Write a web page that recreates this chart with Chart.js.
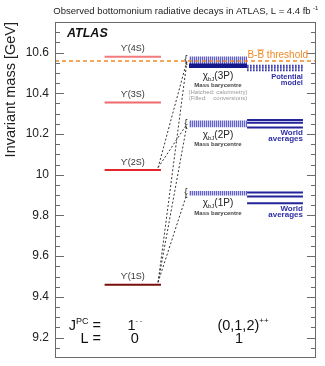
<!DOCTYPE html>
<html>
<head>
<title>Bottomonium radiative decays</title>
<script src="https://cdn.jsdelivr.net/npm/chart.js@4"></script>
<style>
  html, body { margin: 0; padding: 0; background: #fff; }
</style>
</head>
<body>
<canvas id="chart" width="325" height="366"></canvas>
<script>
// mass axis
const massMin = 9.1, massMax = 10.75, tickStep = 0.05, labelStep = 0.2;

// Upsilon(nS) states
const upsNames = ['1S', '2S', '3S', '4S'];
const upsMass = [9.460, 10.023, 10.355, 10.579];
const upsColors = ['#7a0c0c', '#e2262a', '#f06a6e', '#f27a7e'];

// chi_bJ(nP) mass barycentre, hatched band = calorimetry
const chiNames = ['1P', '2P', '3P'];
const chiLow = [9.898, 10.233, 10.543];
const chiHigh = [9.920, 10.266, 10.580];
// chi_bJ(3P) with converted photons (filled band)
const convLow = 10.524, convHigh = 10.546;

// world averages chi_b0, chi_b1, chi_b2
const world1P = [9.8594, 9.8928, 9.9122];
const world2P = [10.2325, 10.2555, 10.2687];
// potential model for chi_bJ(3P)
const model3P = [10.513, 10.525, 10.535];

const bbThreshold = 10.559;

// observed transitions: [upsilon index, chi index]
const transitions = [[0, 0], [0, 1], [0, 2], [1, 1], [1, 2]];

// horizontal columns in x-axis units (0..100 across the frame)
const colUps = [19, 40.6], colChi = [51.3, 73.6], colWorld = [73.6, 95];
const trFrom = 39.5, trTo = 50.6;

const FONT = '"Liberation Sans", Arial, Helvetica, sans-serif';

function hatch() {
  const c = document.createElement('canvas');
  c.width = 2; c.height = 2;
  const g = c.getContext('2d');
  g.fillStyle = '#cfcff4'; g.fillRect(0, 0, 2, 2);
  g.fillStyle = '#6262c6'; g.fillRect(0, 0, 1, 2);
  return g.createPattern(c, 'repeat');
}

function hline(x0, x1, yv, color, width, dash, order) {
  return {
    data: [{ x: x0, y: yv }, { x: x1, y: yv }],
    borderColor: color, borderWidth: width, borderDash: dash || [],
    fill: false, order: order || 1
  };
}

function band(x0, x1, lo, hi, bg) {
  return [
    { data: [{ x: x0, y: lo }, { x: x1, y: lo }], borderWidth: 0, borderColor: 'rgba(0,0,0,0)', fill: false, order: 3 },
    { data: [{ x: x0, y: hi }, { x: x1, y: hi }], borderWidth: 0, borderColor: 'rgba(0,0,0,0)', backgroundColor: bg, fill: '-1', order: 3 }
  ];
}

const pattern = hatch();
const datasets = [];

// B-Bbar threshold on top
datasets.push(hline(0, 100, bbThreshold, '#f08a24', 1.5, [4, 3], 0));

upsMass.forEach((m, i) => datasets.push(hline(colUps[0], colUps[1], m, upsColors[i], 2)));

chiNames.forEach((n, i) => {
  band(colChi[0], colChi[1], chiLow[i], chiHigh[i], pattern).forEach(d => datasets.push(d));
});
band(colChi[0], colChi[1], convLow, convHigh, '#17178c').forEach(d => { d.order = 2; datasets.push(d); });

world1P.forEach(m => datasets.push(hline(colWorld[0], colWorld[1], m, '#23239a', 2)));
world2P.forEach(m => datasets.push(hline(colWorld[0], colWorld[1], m, '#23239a', 2)));
model3P.forEach(m => datasets.push(hline(colWorld[0], colWorld[1], m, '#2a2aa6', 2, [1.5, 1.5])));

transitions.forEach(([u, c]) => {
  datasets.push({
    data: [{ x: trFrom, y: upsMass[u] + 0.012 }, { x: trTo, y: (chiLow[c] + chiHigh[c]) / 2 }],
    borderColor: '#333', borderWidth: 1, borderDash: [2, 2], fill: false, order: 4
  });
});

function isMajor(v) {
  const r = v / labelStep;
  return Math.abs(r - Math.round(r)) < 1e-6;
}

function txt(ctx, s, x, y, font, color, align) {
  ctx.font = font + ' ' + FONT;
  ctx.fillStyle = color;
  ctx.textAlign = align || 'center';
  ctx.textBaseline = 'middle';
  ctx.fillText(s, x, y);
}

// text runs of mixed size on one baseline (super/subscripts via dy)
function rich(ctx, parts, x, y, align, color) {
  ctx.textBaseline = 'alphabetic';
  ctx.textAlign = 'left';
  let w = 0;
  parts.forEach(p => { ctx.font = p.size + 'px ' + FONT; p.w = ctx.measureText(p.t).width; w += p.w; });
  let cx = align === 'right' ? x - w : align === 'left' ? x : x - w / 2;
  ctx.fillStyle = color;
  parts.forEach(p => {
    ctx.font = p.size + 'px ' + FONT;
    ctx.fillText(p.t, cx, y + (p.dy || 0));
    cx += p.w;
  });
}

const decor = {
  id: 'decor',
  afterDraw(chart) {
    const { ctx, chartArea: a, scales: { x, y } } = chart;
    const px = v => x.getPixelForValue(v), py = v => y.getPixelForValue(v);
    ctx.save();

    // frame and inward ticks on both sides
    ctx.strokeStyle = '#6a6a6a';
    ctx.lineWidth = 1;
    ctx.strokeRect(a.left + 0.5, a.top + 0.5, a.width - 1, a.height - 1);
    ctx.beginPath();
    y.ticks.forEach(t => {
      if (t.value <= massMin + 1e-6 || t.value >= massMax - 1e-6) return;
      const yy = Math.round(py(t.value)) + 0.5;
      const len = isMajor(t.value) ? 9 : 5;
      ctx.moveTo(a.left, yy); ctx.lineTo(a.left + len, yy);
      ctx.moveTo(a.right, yy); ctx.lineTo(a.right - len, yy);
    });
    ctx.stroke();

    // heading and experiment tag
    txt(ctx, 'Observed bottomonium radiative decays in ATLAS, L = 4.4 fb', 182, 11, '9.5px', '#222');
    txt(ctx, '-1', 313, 8, '6px', '#222', 'left');
    txt(ctx, 'ATLAS', 67, 34, 'italic bold 12.5px', '#111', 'left');

    // Upsilon labels
    const cu = px((colUps[0] + colUps[1]) / 2);
    upsNames.forEach((n, i) => txt(ctx, 'ϒ(' + n + ')', cu, py(upsMass[i]) - 8, '9px', '#333'));

    // chi_bJ labels under each band
    const cc = px((colChi[0] + colChi[1]) / 2);
    chiNames.forEach((n, i) => {
      const low = n === '3P' ? Math.min(convLow, chiLow[i]) : chiLow[i];
      const yb = py(low);
      rich(ctx, [{ t: 'χ', size: 10 }, { t: 'bJ', size: 6, dy: 2.5 }, { t: '(' + n + ')', size: 10 }], cc, yb + 10.5, 'center', '#222');
      txt(ctx, 'Mass barycentre', cc, yb + 17.5, '600 6px', '#444');
      txt(ctx, '{', px(colChi[0]) - 3, py((chiLow[i] + chiHigh[i]) / 2), '10px', '#333');
      if (n === '3P') {
        txt(ctx, '(Hatched: calorimetry)', cc, yb + 24, '6px', '#999');
        txt(ctx, '(Filled:    conversions)', cc, yb + 30, '6px', '#999');
      }
    });

    // world averages and potential model captions
    const xr = px(colWorld[1]);
    [world1P, world2P].forEach(w => {
      const yb = py(Math.min(...w));
      txt(ctx, 'World', xr, yb + 5, '600 8px', '#2e2ea8', 'right');
      txt(ctx, 'averages', xr, yb + 11.5, '600 8px', '#2e2ea8', 'right');
    });
    const ym = py(Math.min(...model3P));
    txt(ctx, 'Potential', xr, ym + 6.5, '600 7.5px', '#2e2ea8', 'right');
    txt(ctx, 'model', xr, ym + 13, '600 7.5px', '#2e2ea8', 'right');

    // B-Bbar threshold caption with overline
    const yt = py(bbThreshold) - 5.5;
    ctx.font = '10px ' + FONT;
    const label = 'B-B threshold';
    const wAll = ctx.measureText(label).width;
    const x0 = 308 - wAll;
    const wPre = ctx.measureText('B-').width, wB = ctx.measureText('B').width;
    txt(ctx, label, x0, yt, '10px', '#f08a24', 'left');
    ctx.strokeStyle = '#f08a24';
    ctx.lineWidth = 0.8;
    ctx.beginPath();
    ctx.moveTo(x0 + wPre, yt - 5.5); ctx.lineTo(x0 + wPre + wB, yt - 5.5);
    ctx.stroke();

    // quantum numbers along the bottom
    const r1 = py(9.26) + 5, r2 = py(9.2) + 5;
    const xl = px(17.6);
    rich(ctx, [{ t: 'J', size: 14.5 }, { t: 'PC', size: 9, dy: -6 }, { t: ' =', size: 14.5 }], xl, r1, 'right', '#111');
    rich(ctx, [{ t: 'L =', size: 14.5 }], xl, r2, 'right', '#111');
    rich(ctx, [{ t: '1', size: 14.5 }, { t: '- -', size: 7, dy: -7 }], cu + 2, r1, 'center', '#111');
    rich(ctx, [{ t: '0', size: 14.5 }], cu + 2, r2, 'center', '#111');
    const xc = px(70.5);
    rich(ctx, [{ t: '(0,1,2)', size: 14.5 }, { t: '++', size: 8, dy: -7 }], xc + 4, r1, 'center', '#111');
    rich(ctx, [{ t: '1', size: 14.5 }], xc, r2, 'center', '#111');

    ctx.restore();
  }
};

new Chart(document.getElementById('chart'), {
  type: 'line',
  data: { datasets },
  options: {
    responsive: false,
    animation: false,
    layout: { padding: { top: 22, right: 9, bottom: 8, left: 0 } },
    elements: { point: { radius: 0 }, line: { tension: 0 } },
    plugins: { legend: { display: false }, tooltip: { enabled: false } },
    scales: {
      x: { type: 'linear', min: 0, max: 100, display: false },
      y: {
        type: 'linear', min: massMin, max: massMax,
        grid: { display: false, drawTicks: false },
        border: { display: false },
        afterFit(scale) {
          scale.width = 55;
          scale.paddingTop = 0;
          scale.paddingBottom = 0;
        },
        ticks: {
          stepSize: tickStep, autoSkip: false, maxTicksLimit: 100, padding: 6,
          color: '#222', font: { family: FONT, size: 12 },
          callback: v => isMajor(v) ? String(Math.round(v * 10) / 10) : ''
        },
        title: {
          display: true, text: 'Invariant mass [GeV]', align: 'end',
          color: '#222', font: { family: FONT, size: 14.5 }, padding: { top: 2, bottom: 0 }
        }
      }
    }
  },
  plugins: [decor]
});
</script>
</body>
</html>
